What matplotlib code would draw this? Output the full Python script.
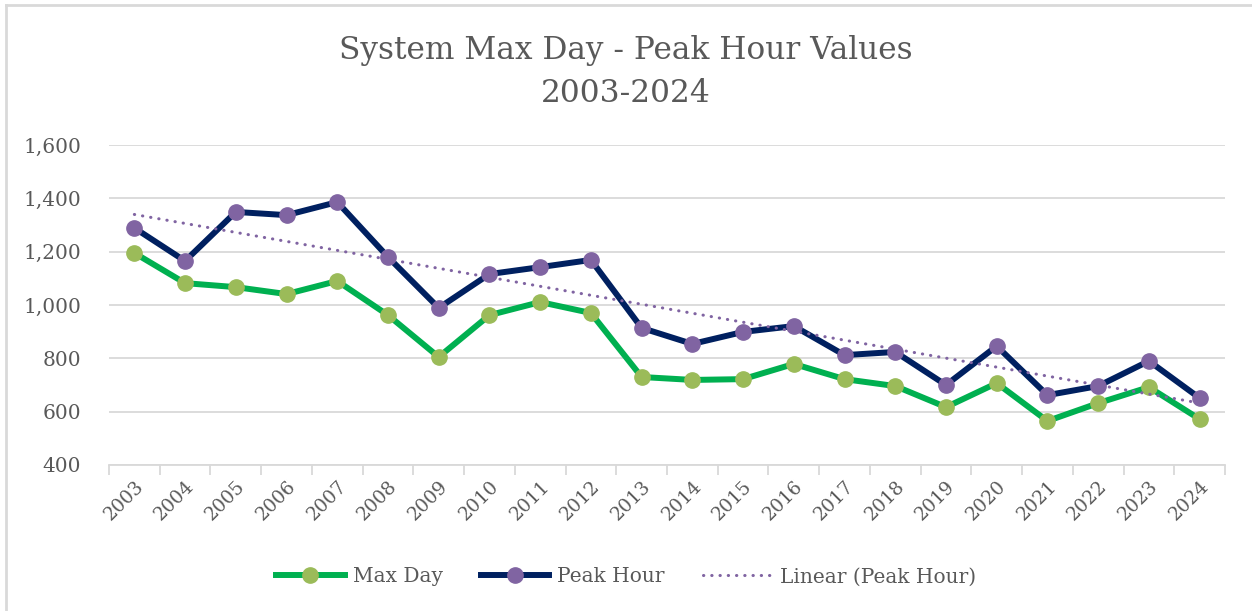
import matplotlib.pyplot as plt
import numpy as np
from matplotlib.lines import Line2D
from matplotlib.ticker import FuncFormatter, MultipleLocator

years = list(range(2003, 2025))
max_day = [1195, 1082, 1067, 1041, 1090, 962, 805, 962, 1011, 970, 730,
           719, 722, 779, 722, 696, 617, 707, 565, 632, 692, 572]
peak_hour = [1289, 1165, 1349, 1337, 1386, 1180, 989, 1116, 1142, 1169, 914,
             854, 899, 921, 812, 824, 700, 846, 662, 696, 790, 651]

TEXT = "#595959"
GRID = "#D9D9D9"
FONT = "DejaVu Serif"
TREND_DASH = (0, (0.1, 2.6))

plt.rcParams["font.family"] = FONT

fig = plt.figure(figsize=(12.52, 6.11), dpi=100)
ax = fig.add_axes([109 / 1252, 1 - 465 / 611, (1225 - 109) / 1252, 320 / 611])

x = np.arange(len(years))
ax.plot(x, max_day, color="#00B050", lw=4.3, marker="o", ms=11,
        mfc="#9BBB59", mec="#9BBB59", solid_joinstyle="round", zorder=3)
ax.plot(x, peak_hour, color="#002060", lw=4.3, marker="o", ms=11,
        mfc="#8064A2", mec="#8064A2", solid_joinstyle="round", zorder=4)

# linear trend of the peak hour series
slope, icpt = np.polyfit(x, peak_hour, 1)
ax.plot(x, slope * x + icpt, color="#8064A2", lw=2.2, ls=TREND_DASH,
        dash_capstyle="round", zorder=5)

ax.set_xlim(-0.5, len(years) - 0.5)
ax.set_ylim(400, 1600)
ax.yaxis.set_major_locator(MultipleLocator(200))
ax.yaxis.set_major_formatter(FuncFormatter(lambda v, p: f"{int(v):,}"))
ax.grid(axis="y", color=GRID, lw=1.3)
ax.set_axisbelow(True)

for s in ("top", "right", "left"):
    ax.spines[s].set_visible(False)
ax.spines["bottom"].set_color(GRID)
ax.spines["bottom"].set_linewidth(1.3)

ax.set_xticks(x)
ax.set_xticklabels([str(y) for y in years], rotation=45, ha="right",
                   rotation_mode="anchor", fontsize=13.5, color=TEXT)
ax.set_xticks(np.arange(-0.5, len(years)), minor=True)
ax.tick_params(axis="x", which="major", length=0, pad=9)
ax.tick_params(axis="x", which="minor", length=7, width=1.3, color=GRID)
ax.tick_params(axis="y", length=0, pad=20, labelsize=14.5, labelcolor=TEXT)

fig.text(0.5, 1 - 50 / 611, "System Max Day - Peak Hour Values", ha="center",
         va="center", fontsize=22.5, color=TEXT)
fig.text(0.5, 1 - 93 / 611, "2003-2024", ha="center", va="center",
         fontsize=22.5, color=TEXT)

handles = [
    Line2D([], [], color="#00B050", lw=4.3, marker="o", ms=11,
           mfc="#9BBB59", mec="#9BBB59"),
    Line2D([], [], color="#002060", lw=4.3, marker="o", ms=11,
           mfc="#8064A2", mec="#8064A2"),
    Line2D([], [], color="#8064A2", lw=2.2, ls=TREND_DASH,
           dash_capstyle="round"),
]
fig.legend(handles, ["Max Day", "Peak Hour", "Linear (Peak Hour)"],
           loc="center", bbox_to_anchor=(0.5, 1 - 577 / 611), ncol=3,
           frameon=False, fontsize=14.5, labelcolor=TEXT, handlelength=3.4,
           columnspacing=1.9, handletextpad=0.4)

# chart border (top and left visible in the crop)
fig.add_artist(Line2D([6 / 1252, 6 / 1252], [0, 1 - 5 / 611],
                      transform=fig.transFigure, color=GRID, lw=2))
fig.add_artist(Line2D([6 / 1252, 1], [1 - 5 / 611, 1 - 5 / 611],
                      transform=fig.transFigure, color=GRID, lw=2))

fig.savefig("out.png", dpi=100)
